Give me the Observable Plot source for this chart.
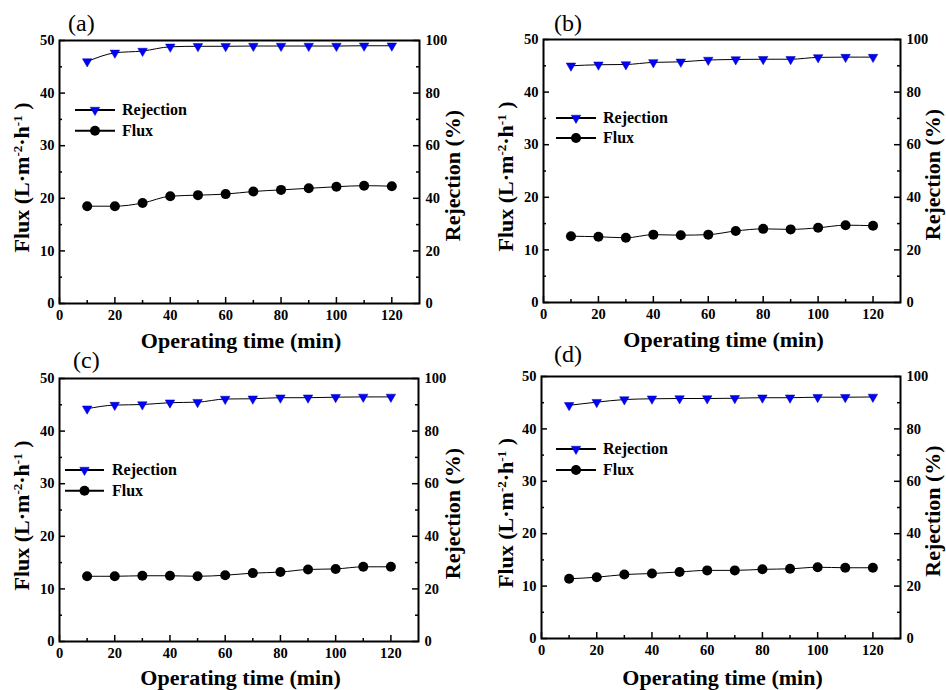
<!DOCTYPE html>
<html><head><meta charset="utf-8">
<script src="https://cdn.jsdelivr.net/npm/d3@7"></script>
<script src="https://cdn.jsdelivr.net/npm/@observablehq/plot@0.6"></script>
<style>
body{margin:0;background:#fff;}
#wrap{position:relative;width:946px;height:690px;overflow:hidden;background:#fff;}
.panel{position:absolute;}
</style></head><body><div id="wrap"></div>
<script>
// ---- data ----
const time = [10, 20, 30, 40, 50, 60, 70, 80, 90, 100, 110, 120];
const fluxA = [18.5, 18.5, 19.1, 20.4, 20.6, 20.8, 21.3, 21.6, 21.9, 22.2, 22.4, 22.3];
const rejA  = [92.0, 95.3, 96.0, 97.6, 97.8, 97.8, 97.9, 97.9, 97.9, 97.9, 98.0, 98.0];
const fluxB = [12.6, 12.5, 12.3, 12.9, 12.8, 12.9, 13.6, 14.0, 13.9, 14.2, 14.7, 14.6];
const rejB  = [90.0, 90.4, 90.5, 91.3, 91.5, 92.2, 92.4, 92.5, 92.5, 93.2, 93.3, 93.3];
const fluxC = [12.4, 12.4, 12.5, 12.5, 12.4, 12.6, 13.0, 13.2, 13.7, 13.8, 14.2, 14.2];
const rejC  = [88.5, 89.9, 90.1, 90.8, 91.0, 92.2, 92.3, 92.7, 92.7, 92.9, 93.0, 93.0];
const fluxD = [11.4, 11.7, 12.2, 12.4, 12.7, 13.0, 13.0, 13.2, 13.3, 13.6, 13.5, 13.5];
const rejD  = [89.0, 90.2, 91.2, 91.5, 91.6, 91.6, 91.7, 91.9, 91.9, 92.1, 92.1, 92.2];
const panelLetters = ["(a)", "(b)", "(c)", "(d)"];
const xTicks = [0, 20, 40, 60, 80, 100, 120];
const xMinor = [10, 30, 50, 70, 90, 110];
const fluxTicks = [0, 10, 20, 30, 40, 50];
const fluxMinor = [5, 15, 25, 35, 45];
const rejTicks = [0, 20, 40, 60, 80, 100];
const rejMinor = [10, 30, 50, 70, 90];
const legendNames = ["Rejection", "Flux"];
const xTitle = "Operating time (min)";
const rejTitle = "Rejection (%)";

// ---- layout ----
const layout = [
  {left: 0,   top: 0,   ml: 59, mr: 54, mt: 40, mb: 49, lx1: 75, lx2: 115, ly: [110, 130.7], tx: 122, letX: 68, letY: 31, ylX: 28.5, yrX: 460, xlY: 348},
  {left: 473, top: 0,   ml: 70, mr: 46, mt: 39, mb: 50, lx1: 83, lx2: 123, ly: [118, 138],   tx: 130, letX: 81, letY: 31, ylX: 40,   yrX: 467, xlY: 347},
  {left: 0,   top: 338, ml: 59, mr: 55, mt: 40, mb: 49, lx1: 65, lx2: 104, ly: [132, 152.7], tx: 112, letX: 73, letY: 30, ylX: 28.5, yrX: 460, xlY: 347},
  {left: 473, top: 338, ml: 68, mr: 46, mt: 38, mb: 52, lx1: 83, lx2: 123, ly: [111, 132],   tx: 130, letX: 81, letY: 24, ylX: 40,   yrX: 467, xlY: 347}
];
const series = [[fluxA, rejA], [fluxB, rejB], [fluxC, rejC], [fluxD, rejD]];

const FONT = "'Liberation Serif', 'Times New Roman', serif";
const BLUE = "#0000ff";
const triDown = {
  draw(ctx, size) {
    const r = Math.sqrt(size / Math.PI);
    const w = r * 1.9, h = r * 1.65;
    ctx.moveTo(-w / 2, -h / 3);
    ctx.lineTo(w / 2, -h / 3);
    ctx.lineTo(0, 2 * h / 3);
    ctx.closePath();
  }
};
const toY = r => r / 2; // rejection (0-100) onto flux axis (0-50)

const W = 473, H = 352;
const MAJ = 6, MIN = 3;
const wrap = document.getElementById("wrap");

layout.forEach((L, k) => {
  const [flux, rej] = series[k];
  const data = time.map((t, i) => ({t, flux: flux[i], rej: rej[i]}));
  const pw = W - L.ml - L.mr, ph = H - L.mt - L.mb;
  const ts = {stroke: "black", strokeWidth: 1.5};
  const plot = Plot.plot({
    width: W, height: H,
    marginLeft: L.ml, marginRight: L.mr, marginTop: L.mt, marginBottom: L.mb,
    style: {fontFamily: FONT, fontWeight: "bold", fontSize: "14.5px", color: "black", background: "transparent", overflow: "visible"},
    x: {domain: [0, 130]},
    y: {domain: [0, 50]},
    marks: [
      Plot.axisX({ticks: xTicks, tickSize: 0, tickPadding: 6, label: null}),
      Plot.axisY({ticks: fluxTicks, tickSize: 0, tickPadding: 5, label: null}),
      Plot.axisY({anchor: "right", ticks: rejTicks.map(toY), tickFormat: d => String(Math.round(d * 2)), tickSize: 0, tickPadding: 6, label: null}),
      Plot.tickX(xTicks, {x: d => d, insetTop: ph - MAJ, ...ts}),
      Plot.tickX(xMinor, {x: d => d, insetTop: ph - MIN, ...ts}),
      Plot.tickY(fluxTicks, {y: d => d, insetRight: pw - MAJ, ...ts}),
      Plot.tickY(fluxMinor, {y: d => d, insetRight: pw - MIN, ...ts}),
      Plot.tickY(rejTicks, {y: d => toY(d), insetLeft: pw - MAJ, ...ts}),
      Plot.tickY(rejMinor, {y: d => toY(d), insetLeft: pw - MIN, ...ts}),
      Plot.frame({stroke: "black", strokeWidth: 2}),
      Plot.line(data, {x: "t", y: d => toY(d.rej), curve: "monotone-x", stroke: "black", strokeWidth: 1}),
      Plot.dot(data, {x: "t", y: d => toY(d.rej), symbol: triDown, r: 5, fill: BLUE, stroke: "#0000a0", strokeWidth: 0.5}),
      Plot.line(data, {x: "t", y: "flux", curve: "monotone-x", stroke: "black", strokeWidth: 1}),
      Plot.dot(data, {x: "t", y: "flux", r: 5, fill: "black"})
    ]
  });

  const svg = d3.select(plot);
  const fx = (L.ml + (W - L.mr)) / 2;
  const fy = (L.mt + (H - L.mb)) / 2;

  svg.append("text").attr("x", L.letX).attr("y", L.letY).attr("text-anchor", "start")
    .attr("font-family", FONT).attr("font-weight", "normal").attr("font-size", 24)
    .attr("fill", "black").text(panelLetters[k]);

  svg.append("text").attr("x", fx + 2).attr("y", L.xlY)
    .attr("text-anchor", "middle").attr("font-family", FONT).attr("font-weight", "bold")
    .attr("font-size", 22).attr("fill", "black").text(xTitle);

  const yl = svg.append("text")
    .attr("transform", `translate(${L.ylX},${fy + 6}) rotate(-90)`)
    .attr("text-anchor", "middle").attr("font-family", FONT).attr("font-weight", "bold")
    .attr("font-size", 22).attr("fill", "black");
  yl.append("tspan").text("Flux (L\u00b7m");
  yl.append("tspan").attr("font-size", 13).attr("dy", -7).text("-2");
  yl.append("tspan").attr("dy", 7).text("\u00b7h");
  yl.append("tspan").attr("font-size", 13).attr("dy", -7).text("-1");
  yl.append("tspan").attr("dy", 7).text(" )");

  svg.append("text")
    .attr("transform", `translate(${L.yrX},${fy + 4}) rotate(-90)`)
    .attr("text-anchor", "middle").attr("font-family", FONT).attr("font-weight", "bold")
    .attr("font-size", 22).attr("fill", "black").text(rejTitle);

  const lg = svg.append("g");
  legendNames.forEach((name, j) => {
    const y = L.ly[j];
    const cx = (L.lx1 + L.lx2) / 2;
    lg.append("line").attr("x1", L.lx1).attr("x2", L.lx2).attr("y1", y).attr("y2", y)
      .attr("stroke", "black").attr("stroke-width", 2);
    if (j === 0) {
      const p = d3.path();
      triDown.draw(p, 25 * Math.PI);
      lg.append("path").attr("d", p.toString()).attr("transform", `translate(${cx},${y})`)
        .attr("fill", BLUE).attr("stroke", "#0000a0").attr("stroke-width", 0.5);
    } else {
      lg.append("circle").attr("cx", cx).attr("cy", y).attr("r", 5).attr("fill", "black");
    }
    lg.append("text").attr("x", L.tx).attr("y", y).attr("dy", "0.34em").attr("text-anchor", "start")
      .attr("font-family", FONT).attr("font-weight", "bold").attr("font-size", 16)
      .attr("fill", "black").text(name);
  });

  const div = document.createElement("div");
  div.className = "panel";
  div.style.left = L.left + "px";
  div.style.top = L.top + "px";
  div.appendChild(plot);
  wrap.appendChild(div);
});
</script>
</body></html>
